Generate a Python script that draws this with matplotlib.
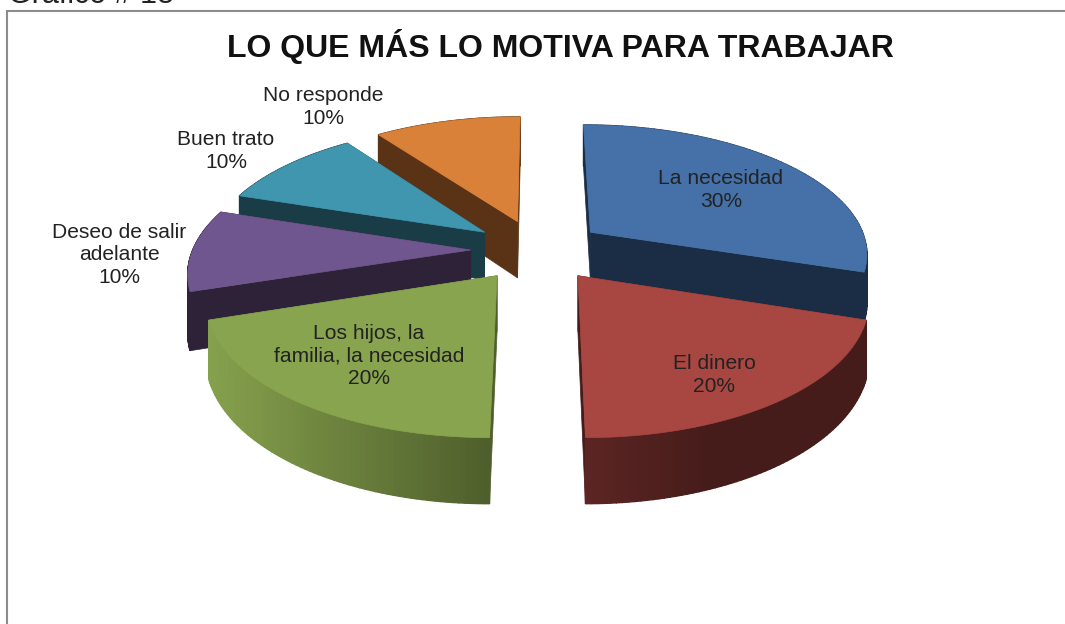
import numpy as np
import matplotlib
matplotlib.use("Agg")
import matplotlib.pyplot as plt
from matplotlib.colors import to_rgb
from matplotlib.patches import Polygon

plt.rcParams['font.family'] = ['Liberation Sans', 'DejaVu Sans']

title = "LO QUE MÁS LO MOTIVA PARA TRABAJAR"
caption = "Gráfico # 18"
categories = ["La necesidad", "El dinero", "Los hijos, la\nfamilia, la necesidad",
              "Deseo de salir\nadelante", "Buen trato", "No responde"]
values = [30, 20, 20, 10, 10, 10]

top_colors = ["#4571A8", "#A84642", "#88A44E", "#70568F", "#3F96AE", "#DA8139"]
side_colors = ["#1A2D45", "#451C1A", "#4F5F2C", "#2E2238", "#1A3C47", "#5A3216"]
rim_left = ["#1A2D45", "#5C2523", "#86A14D", "#2E2238", "#1A3C47", "#5A3216"]
depth_scale = [1.0, 1.115, 1.115, 1.16, 1.0, 1.2]
label_xy = [(721, 190), (714, 375), (369, 356), (119, 255), (226, 151), (323, 107)]
draw_order = [5, 4, 3, 0, 1, 2]

CX, CY, R, A, K, EXPLODE, DEPTH = 537.5, 250, 278, 128.6, 0.152, 0.24, 48.5

fig = plt.figure(figsize=(10.65, 6.24), dpi=100)
ax = fig.add_axes([0, 0, 1, 1])
ax.set_xlim(0, 1065)
ax.set_ylim(624, 0)
ax.axis("off")


def project(gx, gy):
    s = 1 / (1 + K * gy)
    return CX + R * gx * s, CY - A * gy * s, DEPTH * s


ends = 90 - 3.6 * np.cumsum(values)
starts = ends + 3.6 * np.array(values)

for i in draw_order:
    t0, t1 = np.radians(starts[i]), np.radians(ends[i])
    mid = (t0 + t1) / 2
    ox, oy = EXPLODE * np.cos(mid), EXPLODE * np.sin(mid)
    th = np.linspace(t0, t1, 70)
    gx = np.r_[ox, ox + np.cos(th), ox]
    gy = np.r_[oy, oy + np.sin(th), oy]
    x, y, d = project(gx, gy)
    d = d * depth_scale[i]
    # radial side walls
    for a, b in [(0, 1), (-2, -1)]:
        ax.add_patch(Polygon([(x[a], y[a]), (x[b], y[b]), (x[b], y[b] + d[b]), (x[a], y[a] + d[a])],
                             fc=side_colors[i], ec=side_colors[i], lw=0.5))
    # outer rim with horizontal shading
    c0, c1 = np.array(to_rgb(rim_left[i])), np.array(to_rgb(side_colors[i]))
    rx, ry, rd = x[1:-1], y[1:-1], d[1:-1]
    xmin, xmax = rx.min(), rx.max()
    for j in range(len(rx) - 1):
        f = np.clip((rx[j] - xmin) / (xmax - xmin), 0, 1)
        if i == 1:
            f = np.clip(f * 2.2, 0, 1)
        col = c0 + (c1 - c0) * f
        ax.add_patch(Polygon([(rx[j], ry[j]), (rx[j + 1], ry[j + 1]),
                              (rx[j + 1], ry[j + 1] + rd[j + 1]), (rx[j], ry[j] + rd[j])],
                             fc=col, ec=col, lw=1.0))
    ax.add_patch(Polygon(np.c_[x, y], fc=top_colors[i], ec=top_colors[i], lw=0.5))

for name, val, (lx, ly) in zip(categories, values, label_xy):
    ax.text(lx, ly, f"{name}\n{val}%", ha="center", va="center", fontsize=15.1,
            color="#222222", linespacing=1.21)

ax.text(560.5, 46, title, ha="center", va="center", fontsize=23, fontweight="bold", color="#111111")
ax.text(8, 3, caption, ha="left", va="baseline", fontsize=22, color="#222222")

ax.plot([6.5, 6.5, 1065], [624, 10.5, 10.5], color="#8c8c8c", lw=1.5, solid_joinstyle="miter")

fig.savefig("out.png", dpi=100, facecolor="white")
